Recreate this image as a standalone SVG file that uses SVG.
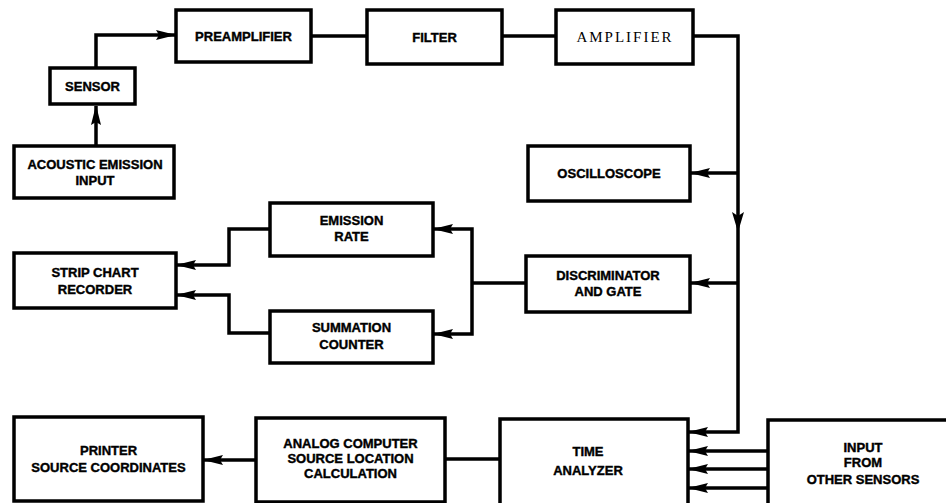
<svg xmlns="http://www.w3.org/2000/svg" width="946" height="503" viewBox="0 0 946 503">
<style>
.box{fill:#fff;stroke:#000;stroke-width:3.5}
.t{font-family:"Liberation Sans",Arial,sans-serif;font-weight:bold;font-size:13px;text-anchor:middle;fill:#000;stroke:#000;stroke-width:0.4}
.s{font-family:"Liberation Serif","Times New Roman",serif;font-size:15px;letter-spacing:2px;text-anchor:middle;fill:#000}
.c{fill:none;stroke:#000;stroke-width:3.5;stroke-linejoin:miter}
.a{marker-end:url(#arr)}
</style>
<defs>
<marker id="arr" viewBox="0 0 20 11" refX="19" refY="5.5" markerWidth="20" markerHeight="11" markerUnits="userSpaceOnUse" orient="auto">
<path d="M0,0.5 L20,5.5 L0,10.5 L3,5.5 z" fill="#000"/>
</marker>
</defs>
<rect width="946" height="503" fill="#fff"/>
<g id="connectors">
<line class="c a" x1="96" y1="146" x2="96" y2="106"/>
<polyline class="c a" points="96,68 96,35 175,35"/>
<line class="c" x1="311" y1="36" x2="367" y2="36"/>
<line class="c" x1="502" y1="36" x2="556" y2="36"/>
<polyline class="c a" points="693,36 738,36 738,432 689,432"/>
<path d="M732,212 L738,232 L744,212 L738,216 z" fill="#000"/>
<line class="c a" x1="738" y1="173" x2="691" y2="173"/>
<line class="c a" x1="738" y1="283" x2="691" y2="283"/>
<line class="c" x1="526" y1="283" x2="472" y2="283"/>
<polyline class="c a" points="472,283 472,229 434,229"/>
<polyline class="c a" points="472,283 472,334 434,334"/>
<polyline class="c a" points="270,229 229,229 229,265 177,265"/>
<polyline class="c a" points="270,333 229,333 229,295 177,295"/>
<line class="c" x1="500" y1="459" x2="445" y2="459"/>
<line class="c a" x1="256" y1="460" x2="204" y2="460"/>
<line class="c a" x1="768" y1="451" x2="689" y2="451"/>
<line class="c a" x1="768" y1="469" x2="689" y2="469"/>
<line class="c a" x1="768" y1="488" x2="689" y2="488"/>
</g>
<g id="sensor"><rect class="box" x="50" y="68" width="85" height="36"/><text class="t" x="92.5" y="91">SENSOR</text></g>
<g id="preamplifier"><rect class="box" x="176" y="10" width="135" height="52"/><text class="t" x="243.5" y="41">PREAMPLIFIER</text></g>
<g id="filter"><rect class="box" x="367" y="10" width="135" height="54"/><text class="t" x="434.5" y="42">FILTER</text></g>
<g id="amplifier"><rect class="box" x="556" y="10" width="137" height="54"/><text class="s" x="625" y="42">AMPLIFIER</text></g>
<g id="acoustic"><rect class="box" x="14" y="146" width="160" height="52"/><text class="t" x="95" y="169">ACOUSTIC EMISSION</text><text class="t" x="95" y="185">INPUT</text></g>
<g id="oscilloscope"><rect class="box" x="528" y="146" width="162" height="55"/><text class="t" x="609" y="178">OSCILLOSCOPE</text></g>
<g id="emission-rate"><rect class="box" x="270" y="203" width="163" height="53"/><text class="t" x="351.5" y="225">EMISSION</text><text class="t" x="351.5" y="241">RATE</text></g>
<g id="strip-chart"><rect class="box" x="14" y="253" width="162" height="55"/><text class="t" x="95" y="277">STRIP CHART</text><text class="t" x="95" y="294">RECORDER</text></g>
<g id="discriminator"><rect class="box" x="526" y="256" width="164" height="56"/><text class="t" x="608" y="280">DISCRIMINATOR</text><text class="t" x="608" y="296">AND GATE</text></g>
<g id="summation"><rect class="box" x="270" y="311" width="163" height="52"/><text class="t" x="351.5" y="332">SUMMATION</text><text class="t" x="351.5" y="349">COUNTER</text></g>
<g id="printer"><rect class="box" x="14" y="417" width="189" height="84"/><text class="t" x="108.5" y="455">PRINTER</text><text class="t" x="108.5" y="472">SOURCE COORDINATES</text></g>
<g id="analog-computer"><rect class="box" x="256" y="418" width="189" height="84"/><text class="t" x="350.5" y="448">ANALOG COMPUTER</text><text class="t" x="350.5" y="463">SOURCE LOCATION</text><text class="t" x="350.5" y="478">CALCULATION</text></g>
<g id="time-analyzer"><rect class="box" x="500" y="419" width="188" height="86"/><text class="t" x="588" y="456">TIME</text><text class="t" x="588" y="475">ANALYZER</text></g>
<g id="input-other"><rect class="box" x="768" y="420" width="190" height="86"/><text class="t" x="863" y="452">INPUT</text><text class="t" x="863" y="467">FROM</text><text class="t" x="863" y="484">OTHER SENSORS</text></g>
</svg>
